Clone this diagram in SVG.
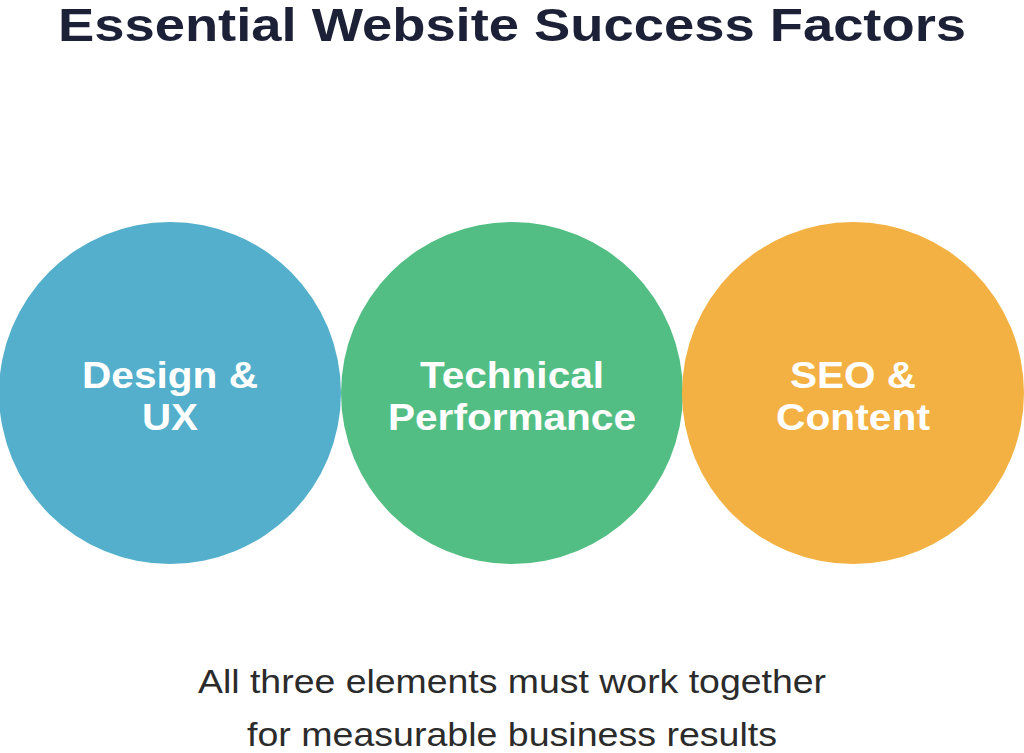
<svg xmlns="http://www.w3.org/2000/svg" width="1024" height="753" viewBox="0 0 1024 753">
<style>
.t{font-family:"Liberation Sans",Arial,sans-serif;text-anchor:middle}
.lbl{font-size:37px;font-weight:bold;fill:#fff}
</style>
<rect width="1024" height="753" fill="#fff"/>
<text class="t" x="512" y="41" font-size="46" font-weight="bold" fill="#1d2137" textLength="908" lengthAdjust="spacingAndGlyphs">Essential Website Success Factors</text>
<g id="connectors"></g>
<g id="design"><circle cx="170" cy="393" r="171" fill="#53afcb"/><text class="t lbl" x="170" y="388" textLength="176" lengthAdjust="spacingAndGlyphs">Design &amp;</text><text class="t lbl" x="170" y="430" textLength="56" lengthAdjust="spacingAndGlyphs">UX</text></g>
<g id="technical"><circle cx="512" cy="393" r="171" fill="#53be83"/><text class="t lbl" x="512" y="388" textLength="184" lengthAdjust="spacingAndGlyphs">Technical</text><text class="t lbl" x="512" y="430" textLength="248" lengthAdjust="spacingAndGlyphs">Performance</text></g>
<g id="seo"><circle cx="853" cy="393" r="171" fill="#f4b143"/><text class="t lbl" x="853" y="388" textLength="126" lengthAdjust="spacingAndGlyphs">SEO &amp;</text><text class="t lbl" x="853" y="430" textLength="154" lengthAdjust="spacingAndGlyphs">Content</text></g>
<text class="t" x="512" y="693" font-size="34" fill="#2b2b2b" textLength="628" lengthAdjust="spacingAndGlyphs">All three elements must work together</text>
<text class="t" x="512" y="746" font-size="34" fill="#2b2b2b" textLength="530" lengthAdjust="spacingAndGlyphs">for measurable business results</text>
</svg>
